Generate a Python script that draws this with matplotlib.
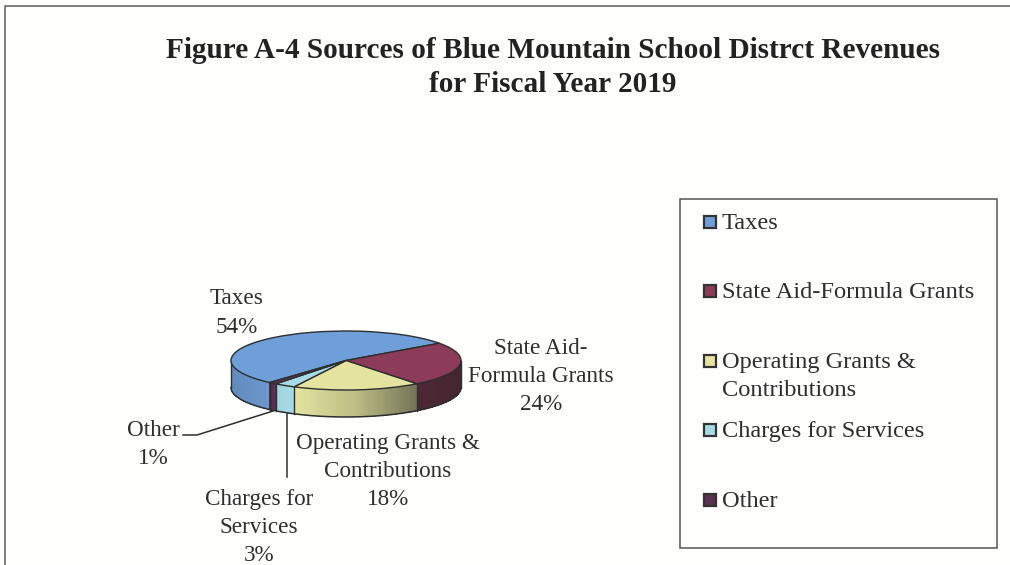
import numpy as np
import matplotlib
matplotlib.use("Agg")
import matplotlib.pyplot as plt
from matplotlib.patches import Wedge, Rectangle
from matplotlib.collections import PolyCollection
from matplotlib.transforms import Affine2D
from matplotlib.colors import to_rgb

plt.rcParams["font.family"] = ["Liberation Serif"]

title_lines = ["Figure A-4 Sources of Blue Mountain School Distrct Revenues", "for Fiscal Year 2019"]
categories = ["Taxes", "State Aid-Formula Grants", "Operating Grants &\nContributions", "Charges for Services", "Other"]
shares = [53.5, 24.4, 18.0, 3.0, 1.1]
share_labels = ["54%", "24%", "18%", "3%", "1%"]
colors = ["#6f9fd8", "#8c3b58", "#e4e4a0", "#a6dbe6", "#5b3055"]

INK = "#2e2e2e"
cx, cy, a, b, depth = 346, 360.5, 115, 29.5, 27
start_angle = 228.4

fig = plt.figure(figsize=(10.10, 5.65), dpi=100, facecolor="#fefefd")
ax = fig.add_axes([0, 0, 1, 1])
ax.set_xlim(0, 1010)
ax.set_ylim(565, 0)
ax.axis("off")

# Outer chart frame, cropped by the page on the right and bottom
ax.plot([5, 5, 1010], [565, 6, 6], color="#6a6a6a", lw=1.2)

for i, line in enumerate(title_lines):
    ax.text(553, 51 + 33.5 * i, line, ha="center", va="center", fontsize=21.1,
            fontweight="bold", color="#222222")

# Angular extent of each slice, running clockwise from the start angle
edges = start_angle - np.cumsum([0] + shares) * 3.6
unit = Affine2D().scale(a, -b).translate(cx, cy) + ax.transData


def wall_color(rgb, theta):
    """Rim colour: lit from the left, falling off to a near-neutral dark on the right."""
    x = np.cos(np.radians(theta))
    s = np.interp(x, [-1, -0.45, 0.1, 0.6, 1], [0.85, 1.0, 0.80, 0.46, 0.36])
    return rgb * s + (1 - s) * 0.1


# Rim quads, only where the rim faces the viewer (180 to 360 degrees)
polys, faces = [], []
for k, color in enumerate(colors):
    rgb = np.array(to_rgb(color))
    for shift in (0, 360):
        lo = max(edges[k + 1] + shift, 180)
        hi = min(edges[k] + shift, 360)
        if hi <= lo:
            continue
        t = np.linspace(lo, hi, int((hi - lo) / 1.5) + 2)
        for t0, t1 in zip(t[:-1], t[1:]):
            xs = cx + a * np.cos(np.radians([t0, t1]))
            ys = cy - b * np.sin(np.radians([t0, t1]))
            polys.append([(xs[0], ys[0]), (xs[1], ys[1]), (xs[1], ys[1] + depth), (xs[0], ys[0] + depth)])
            faces.append(wall_color(rgb, (t0 + t1) / 2))
ax.add_collection(PolyCollection(polys, facecolors=faces, edgecolors="none", antialiased=False, zorder=2))

# Rim outline and the vertical joints between slices
t = np.radians(np.linspace(180, 360, 200))
ax.plot(cx + a * np.cos(t), cy - b * np.sin(t) + depth, color=INK, lw=1.1, zorder=3)
for x_edge in (-1, 1):
    ax.plot([cx + x_edge * a] * 2, [cy, cy + depth], color=INK, lw=1.0, zorder=3)
for e in edges:
    s = e % 360
    if 180 < s < 360:
        x = cx + a * np.cos(np.radians(s))
        y = cy - b * np.sin(np.radians(s))
        ax.plot([x, x], [y, y + depth], color=INK, lw=1.0, zorder=3)

# Top face of the pie
for k, color in enumerate(colors):
    wedge = Wedge((0, 0), 1, edges[k + 1], edges[k], facecolor=color, edgecolor=INK,
                  linewidth=1.0, transform=unit, zorder=4)
    ax.add_patch(wedge)

# Leader lines
ax.plot([183, 197, 273], [435, 435, 411], color=INK, lw=1.1, zorder=5)
ax.plot([287, 287], [414, 477], color=INK, lw=1.1, zorder=5)

LABEL = 16.7
SPACING = 1.45
label_spec = [
    (237, 313, categories[0] + "\n" + share_labels[0]),
    (541, 376.5, "State Aid-\nFormula Grants\n" + share_labels[1]),
    (388, 471.5, categories[2] + "\n" + share_labels[2]),
    (259, 527.5, "Charges for\nServices\n" + share_labels[3]),
    (153, 444.5, categories[4] + "\n" + share_labels[4]),
]
for x, y, s in label_spec:
    ax.text(x, y, s, ha="center", va="center", fontsize=LABEL, color=INK, linespacing=SPACING, zorder=6)

# Legend
ax.add_patch(Rectangle((680, 199), 317, 349, facecolor="none", edgecolor="#555555", lw=1.1, zorder=5))
legend_y = [222, 291, 361, 430, 500]
for color, y, name in zip(colors, legend_y, categories):
    ax.add_patch(Rectangle((704, y - 6), 12, 12, facecolor=color, edgecolor="#333333", lw=1.6, zorder=6))
    ax.text(722, y - 9, name, ha="left", va="top", fontsize=17.6, color=INK,
            linespacing=1.42, zorder=6)

fig.savefig("out.png", dpi=100, facecolor=fig.get_facecolor())
